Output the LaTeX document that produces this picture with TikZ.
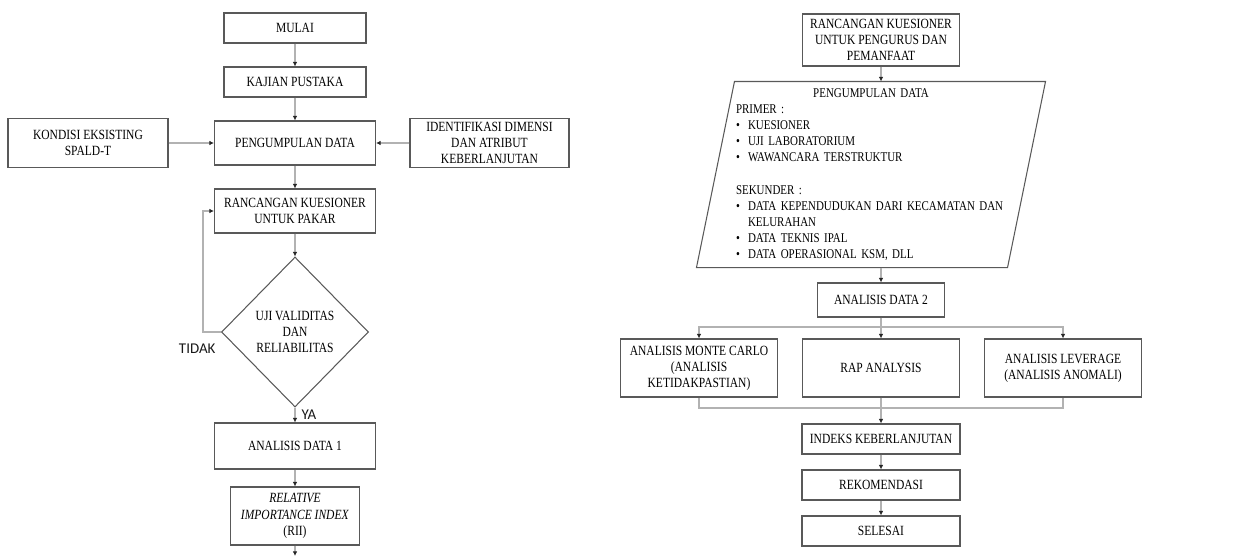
\documentclass[tikz,border=0pt]{standalone}
\usepackage{fontspec}
\setmainfont{Liberation Serif}[FakeStretch=0.82]
\newfontfamily\lblfont{Carlito}
\usetikzlibrary{positioning,shapes.geometric,arrows.meta}
\newcommand{\pdbullet}{\makebox[0.24cm][l]{\textbullet}}
\tikzset{
  box/.style={draw=black!65, line width=0.6pt, align=center, inner sep=1pt, text=black, font=\fontsize{8}{9.2}\selectfont},
  line/.style={draw=black!30, line width=0.8pt},
  yatidak/.style={font=\lblfont\fontsize{8.5}{10}\selectfont, text=black!90},
  >={Latex[length=2.6pt,width=2.6pt,color=black!85]}
}

\begin{document}
\begin{tikzpicture}
      \useasboundingbox (0,0) rectangle (24.98,-11.14);
      \node[box, minimum width=2.84cm, minimum height=0.6cm] (1) at (5.9,-0.56) {MULAI};
      \node[box, minimum width=2.84cm, minimum height=0.6cm, below of=1, yshift=-0.08cm] (2) {KAJIAN PUSTAKA};
      \node[box, minimum width=3.22cm, minimum height=0.88cm, below of=2, yshift=-0.22cm] (3) {PENGUMPULAN DATA};
      \node[box, minimum width=3.2cm, minimum height=0.98cm, left of=3, xshift=-3.14cm] (4) {KONDISI EKSISTING\\SPALD-T};
      \node[box, minimum width=3.18cm, minimum height=0.98cm, right of=3, xshift=2.89cm] (5) {IDENTIFIKASI DIMENSI\\DAN ATRIBUT\\KEBERLANJUTAN};
      \node[box, minimum width=3.22cm, minimum height=0.88cm, below of=3, yshift=-0.36cm] (6) {RANCANGAN KUESIONER\\UNTUK PAKAR};
      \node[box, diamond, minimum width=2.94cm, minimum height=3cm, inner sep=0pt, below of=6, yshift=-1.42cm] (7) {UJI VALIDITAS\\DAN\\RELIABILITAS};
      \node[box, minimum width=3.22cm, minimum height=0.92cm, below of=7, yshift=-1.28cm] (8) {ANALISIS DATA 1};
      \node[box, minimum width=2.58cm, minimum height=1.16cm, below of=8, yshift=-0.4cm] (9) {\textit{RELATIVE}\\\textit{IMPORTANCE INDEX}\\(RII)};
      \coordinate[below of=9, yshift=0.2cm] (10);

      \draw[line,->] (1) -- (2);
      \draw[line,->] (2) -- (3);
      \draw[line,->] (4) -- (3);
      \draw[line,->] (5) -- (3);
      \draw[line,->] (3) -- (6);
      \draw[line,->] (6) -- (7);
      \draw[line,->] (7.west) node[yatidak, below left, xshift=0.02cm, yshift=-0.1cm] {TIDAK} -- ++(-0.36,0) |- (6.west);
      \draw[line,->] (7) -- node[yatidak, right] {YA} (8);
      \draw[line,->] (8) -- (9);
      \draw[line,->] (9) -- (10);

      \node[box, minimum width=3.14cm, minimum height=1.04cm] (11) at (17.62,-0.8) {RANCANGAN KUESIONER\\UNTUK PENGURUS DAN\\PEMANFAAT};
      \node[box, draw=none, font=\fontsize{7.6}{9.2}\selectfont, minimum width=6.96cm, minimum height=3.7cm, text width=5.4cm, align=left, below of=11, xshift=-0.2cm, yshift=-1.69cm] (12) {%
        \makebox[\linewidth]{PENGUMPULAN DATA}\\
        PRIMER :\\
        \pdbullet KUESIONER\\
        \pdbullet UJI LABORATORIUM\\
        \pdbullet WAWANCARA TERSTRUKTUR\\[9.2pt]
        SEKUNDER :\\
        \pdbullet DATA KEPENDUDUKAN DARI KECAMATAN DAN\\
        \hspace*{0.24cm}KELURAHAN\\
        \pdbullet DATA TEKNIS IPAL\\
        \pdbullet DATA OPERASIONAL KSM, DLL};
      \draw[draw=black!65, line width=0.6pt] ([xshift=0.76cm]12.north west) -- (12.north east) -- ([xshift=-0.76cm]12.south east) -- (12.south west) -- cycle;
      \node[box, minimum width=2.54cm, minimum height=0.68cm, below of=11, yshift=-4.2cm] (13) {ANALISIS DATA 2};
      \coordinate[below of=13, yshift=0.46cm] (b);
      \node[box, minimum width=3.14cm, minimum height=1.16cm, below of=13, yshift=-0.36cm] (15) {RAP ANALYSIS};
      \node[box, minimum width=3.14cm, minimum height=1.16cm, left of=15, xshift=-2.64cm] (14) {ANALISIS MONTE CARLO\\(ANALISIS\\KETIDAKPASTIAN)};
      \node[box, minimum width=3.14cm, minimum height=1.16cm, right of=15, xshift=2.64cm] (16) {ANALISIS LEVERAGE\\(ANALISIS ANOMALI)};
      \coordinate[below of=15, yshift=0.2cm] (m);
      \node[box, minimum width=3.16cm, minimum height=0.6cm, below of=15, yshift=-0.42cm] (17) {INDEKS KEBERLANJUTAN};
      \node[box, minimum width=3.16cm, minimum height=0.6cm, below of=17, yshift=0.08cm] (18) {REKOMENDASI};
      \node[box, minimum width=3.16cm, minimum height=0.6cm, below of=18, yshift=0.08cm] (19) {SELESAI};

      \draw[line,->] (11) -- (11 |- 12.north);
      \draw[line,->] (13 |- 12.south) -- (13);
      \draw[line] (13) -- (b);
      \draw[line,->] (b) -| (14);
      \draw[line,->] (b) -- (15);
      \draw[line,->] (b) -| (16);
      \draw[line] (14) |- (m) -| (16);
      \draw[line] (15) -- (m);
      \draw[line,->] (m) -- (17);
      \draw[line,->] (17) -- (18);
      \draw[line,->] (18) -- (19);
    \end{tikzpicture}
\end{document}
